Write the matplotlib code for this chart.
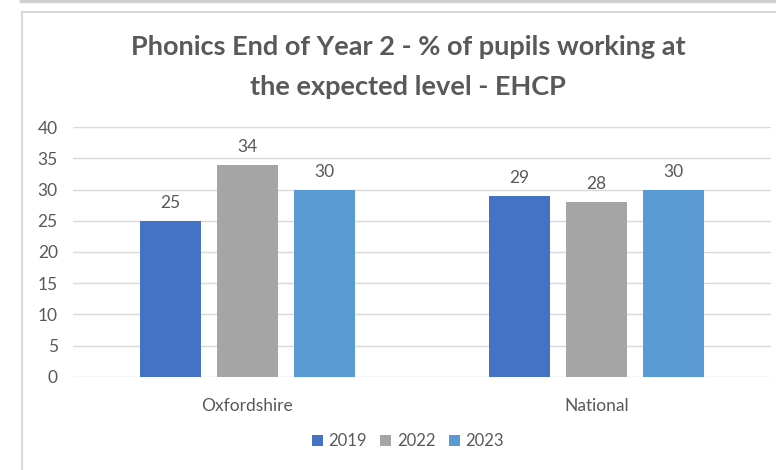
import matplotlib.pyplot as plt
import numpy as np

areas = ['Oxfordshire', 'National']
years = ['2019', '2022', '2023']
v2019 = [25, 29]
v2022 = [34, 28]
v2023 = [30, 30]
colors = ['#4472C4', '#A5A5A5', '#5B9BD5']

plt.rcParams['font.family'] = ['Lato', 'DejaVu Sans']
txt = '#595959'
W, H = 776, 470

fig = plt.figure(figsize=(W / 100, H / 100), dpi=100)
ax = fig.add_axes([73 / W, 1 - 376.7 / H, (771 - 73) / W, (376.7 - 127.3) / H])

x = np.arange(len(areas))
bw = 0.172
step = 0.2206
for i, (vals, yr) in enumerate(zip([v2019, v2022, v2023], years)):
    pos = x + (i - 1) * step
    ax.bar(pos, vals, bw, color=colors[i], label=yr, zorder=3)
    for p, v in zip(pos, vals):
        ax.text(p, v + 1.6, str(v), ha='center', va='bottom', fontsize=12.5, color=txt)

ax.set_xlim(-0.5, 1.5)
ax.set_ylim(0, 40)
ax.set_yticks(range(0, 41, 5))
ax.set_xticks(x)
ax.set_xticklabels(areas)
ax.tick_params(axis='both', length=0, colors=txt, labelsize=12.5)
ax.tick_params(axis='y', pad=11)
ax.tick_params(axis='x', pad=15)
ax.grid(axis='y', color='#d9d9d9', lw=1, zorder=0)
for s in ax.spines.values():
    s.set_visible(False)

fig.text(408 / W, 1 - 47 / H, 'Phonics End of Year 2 - % of pupils working at',
         ha='center', va='center', fontsize=19.5, fontweight='bold', color=txt)
fig.text(408 / W, 1 - 87 / H, 'the expected level - EHCP',
         ha='center', va='center', fontsize=19.5, fontweight='bold', color=txt)

fig.legend(loc='center', bbox_to_anchor=(408 / W, 1 - 441 / H), ncol=3, frameon=False,
           handlelength=0.65, handleheight=0.65, handletextpad=0.35, columnspacing=0.8,
           fontsize=12, labelcolor=txt)

# chart frame and top band
fig.add_artist(plt.Line2D([21.5 / W, 21.5 / W], [0, 1 - 11.5 / H], color='#d9d9d9', lw=1.5, transform=fig.transFigure))
fig.add_artist(plt.Line2D([21.5 / W, 1], [1 - 11.5 / H, 1 - 11.5 / H], color='#d9d9d9', lw=1.5, transform=fig.transFigure))
fig.add_artist(plt.Line2D([21 / W, 1], [1 - 1 / H, 1 - 1 / H], color='#d0d0d0', lw=2.5, transform=fig.transFigure))

fig.savefig('out.png', dpi=100)
